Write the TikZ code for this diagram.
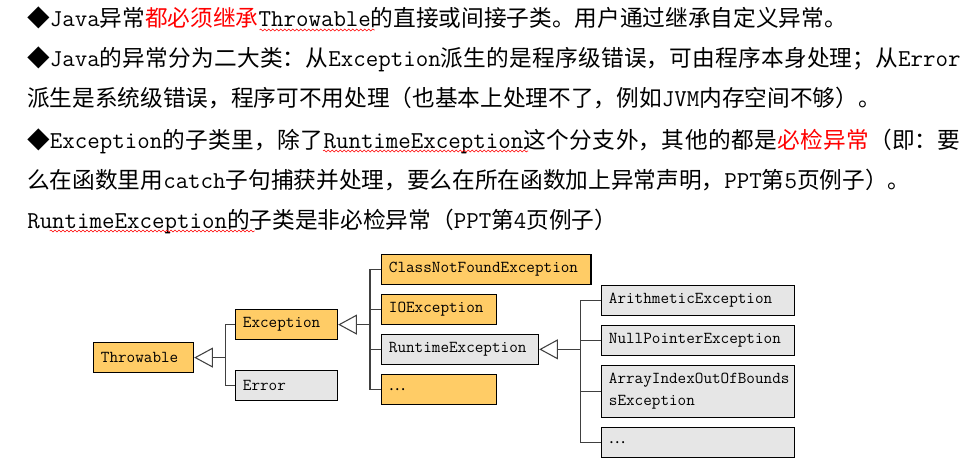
\documentclass[tikz,border=0pt]{standalone}
\usepackage{fontspec}
\setmainfont{Noto Sans CJK SC}
\setmonofont[Scale=1.07]{Latin Modern Mono}
\usetikzlibrary{arrows.meta,positioning,decorations.pathmorphing}
\definecolor{boxyellow}{HTML}{FFCC66}
\definecolor{boxgrey}{HTML}{E6E6E6}
\definecolor{wire}{HTML}{404040}
\XeTeXlinebreaklocale "zh"
\XeTeXlinebreakskip=0pt plus 2pt

\begin{document}
\begin{tikzpicture}[x=0.75pt, y=-0.75pt, node distance=6.5pt,
  para/.style={anchor=base west, inner sep=0, text width=700pt, align=justify, font=\fontsize{17}{30}\selectfont},
  cls/.style={rectangle, draw=black, line width=0.9pt, anchor=north west, text width=#1, inner xsep=5.5pt, inner ysep=2pt, minimum height=22.5pt, align=left, font=\fontsize{11.7}{16.3}\selectfont\ttfamily},
  ybox/.style={cls=#1, fill=boxyellow},
  gbox/.style={cls=#1, fill=boxgrey},
  link/.style={draw=wire, line width=1pt},
  gen/.style={link, -{Triangle[open, length=14pt, width=15pt, line width=0.8pt]}},
  spell/.style={draw=red, line width=0.4pt, decorate, decoration={snake, amplitude=0.7pt, segment length=3pt}}]
  \useasboundingbox (0,0) rectangle (975,460);
  \node (rule1) [para] at (27,27) {◆\texttt{Java}异常\textcolor{red}{都必须继承}\texttt{Throwable}的直接或间接子类。用户通过继承自定义异常。};
  \node (rule2) [para] at (27,67) {\hangindent=1em\hangafter=1 ◆\texttt{Java}的异常分为二大类：从\texttt{Exception}派生的是程序级错误，可由程序本身处理；从\texttt{Error}\linebreak 派生是系统级错误，程序可不用处理（也基本上处理不了，例如\texttt{JVM}内存空间不够）。};
  \node (rule3) [para] at (27,148) {\hangindent=1em\hangafter=1 ◆\texttt{Exception}的子类里，除了\texttt{RuntimeException}这个分支外，其他的都是\textcolor{red}{必检异常}（即：要\linebreak 么在函数里用\texttt{catch}子句捕获并处理，要么在所在函数加上异常声明，\texttt{PPT}第\texttt{5}页例子）。\hfill\kern0pt\linebreak \texttt{RuntimeException}的子类是非必检异常（\texttt{PPT}第\texttt{4}页例子）};
  \draw[spell] ([shift={(232.5,3)}]rule1.base west) -- ++(115,0);
  \draw[spell] ([shift={(296,3)}]rule3.base west) -- ++(205,0);
  \draw[spell] ([shift={(22.7,83)}]rule3.base west) -- ++(205,0);
  \node (throwable) [ybox=64pt] at (93,342) {Throwable};
  \node (exception) [ybox=65.5pt] at (235,309) {Exception};
  \node (error) [gbox=65.5pt, below=22.5pt of exception.south west, anchor=north west] {Error};
  \node (cnf) [ybox=146pt] at (381,254) {\mbox{ClassNotFoundException}};
  \node (io) [ybox=75.25pt, below=of cnf.south west, anchor=north west] {IOException};
  \node (runtime) [gbox=106.75pt, below=of io.south west, anchor=north west] {RuntimeException};
  \node (more) [ybox=75.25pt, below=of runtime.south west, anchor=north west] {\textrm{…}};
  \node (arith) [gbox=133.75pt] at (601,285) {ArithmeticException};
  \node (nullp) [gbox=133.75pt, below=of arith.south west, anchor=north west] {NullPointerException};
  \node (array) [gbox=133.75pt, minimum height=39pt, below=of nullp.south west, anchor=north west] {\mbox{ArrayIndexOutOfBounds}\\sException};
  \node (more2) [gbox=133.75pt, below=of array.south west, anchor=north west] {\textrm{…}};
  \coordinate (tbar) at ([xshift=23.25pt]throwable.east);
  \coordinate (ebar) at ([xshift=23.8pt]exception.east);
  \coordinate (rbar) at ([xshift=30.75pt]runtime.east);
  \draw[gen] (tbar) -- (throwable.east);
  \draw[link] (exception.west) -| (tbar);
  \draw[link] (error.west) -| (tbar);
  \draw[gen] (ebar) -- (exception.east);
  \draw[link] (cnf.west) -| (ebar);
  \draw[link] (io.west) -| (ebar);
  \draw[link] (runtime.west) -| (ebar);
  \draw[link] (more.west) -| (ebar);
  \draw[gen] (rbar) -- (runtime.east);
  \draw[link] (arith.west) -| (rbar);
  \draw[link] (nullp.west) -| (rbar);
  \draw[link] (array.west) -| (rbar);
  \draw[link] (more2.west) -| (rbar);
\end{tikzpicture}
\end{document}
